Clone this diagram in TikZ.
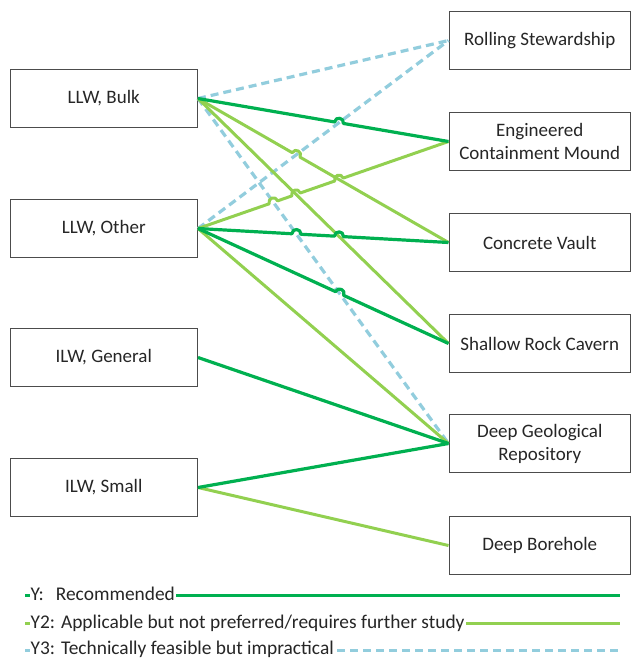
\documentclass[tikz,border=0pt]{standalone}
\usepackage{fontspec}
\setmainfont{Carlito}
\usetikzlibrary{calc}

\definecolor{ygreen}{RGB}{0,176,80}
\definecolor{ytwogreen}{RGB}{146,208,80}
\definecolor{ythreeblue}{RGB}{146,205,221}

\begin{document}
\begin{tikzpicture}[x=1pt, y=-1pt,
    box/.style={draw=black!70, line width=1pt, fill=white, minimum height=57.5pt,
        inner sep=0pt, align=center, font=\fontsize{19}{23}\selectfont, text=black!85},
    leftbox/.style={box, minimum width=187.5pt},
    rightbox/.style={box, minimum width=181.5pt},
    yline/.style={ygreen, line width=3.2pt, line join=round},
    ytwoline/.style={ytwogreen, line width=3pt, line join=round},
    ythreeline/.style={ythreeblue, line width=3.2pt, dash pattern=on 8pt off 5pt},
    hopover/.style={bend left=90, looseness=1.7},
    legtext/.style={fill=white, inner xsep=1pt, inner ysep=2pt, anchor=base west,
        font=\fontsize{19.4}{23}\selectfont, text=black!85}]
				% Размер рисунка
				\useasboundingbox (0,0) rectangle (631,659);
				
				% Отходы (слева)
				\node[leftbox] (bulk) at (103.75,98.5) {LLW, Bulk};
				\node[leftbox] (other) at (103.75,228.5) {LLW, Other};
				\node[leftbox] (general) at (103.75,357.5) {ILW, General};
				\node[leftbox] (small) at (103.75,487.5) {ILW, Small};
				
				% Варианты захоронения (справа)
				\node[rightbox] (rs) at (539.75,40.5) {Rolling Stewardship};
				\node[rightbox] (ecm) at (539.75,141.5) {Engineered\\Containment Mound};
				\node[rightbox] (cv) at (539.75,242.5) {Concrete Vault};
				\node[rightbox] (src) at (539.75,343.5) {Shallow Rock Cavern};
				\node[rightbox] (dgr) at (539.75,443.5) {Deep Geological\\Repository};
				\node[rightbox] (db) at (539.75,545.5) {Deep Borehole};
				
				% Точки перескока линий
				\coordinate (h1) at ($(bulk.east)!0.5628!(ecm.west)$);
				\coordinate (h2) at ($(bulk.east)!0.3916!(cv.west)$);
				\coordinate (h3) at ($(other.east)!0.3009!(ecm.west)$);
				\coordinate (h4) at ($(other.east)!0.3916!(ecm.west)$);
				\coordinate (h5) at ($(other.east)!0.5628!(ecm.west)$);
				\coordinate (h6) at ($(other.east)!0.3927!(cv.west)$);
				\coordinate (h7) at ($(other.east)!0.5628!(cv.west)$);
				\coordinate (h8) at ($(other.east)!0.5652!(src.west)$);
				
				% Y3: технически возможно
				\draw[ythreeline] (bulk.east) -- (rs.west);
				\draw[ythreeline] (bulk.east) -- (dgr.west);
				\draw[ythreeline] (other.east) -- (rs.west);
				
				% Y2: применимо, но не предпочтительно
				\draw[ytwoline] (bulk.east) -- ($(h2)!4.5pt!(bulk.east)$) to[hopover] ($(h2)!4.5pt!(cv.west)$) -- (cv.west);
				\draw[ytwoline] (bulk.east) -- (src.west);
				\draw[ytwoline] (other.east) -- ($(h3)!4.5pt!(other.east)$) to[hopover] ($(h3)!4.5pt!(ecm.west)$)
					-- ($(h4)!4.5pt!(other.east)$) to[hopover] ($(h4)!4.5pt!(ecm.west)$)
					-- ($(h5)!4.5pt!(other.east)$) to[hopover] ($(h5)!4.5pt!(ecm.west)$) -- (ecm.west);
				\draw[ytwoline] (other.east) -- (dgr.west);
				\draw[ytwoline] (small.east) -- (db.west);
				
				% Y: рекомендуется
				\draw[yline] (bulk.east) -- ($(h1)!4.5pt!(bulk.east)$) to[hopover] ($(h1)!4.5pt!(ecm.west)$) -- (ecm.west);
				\draw[yline] (other.east) -- ($(h6)!4.5pt!(other.east)$) to[hopover] ($(h6)!4.5pt!(cv.west)$)
					-- ($(h7)!4.5pt!(other.east)$) to[hopover] ($(h7)!4.5pt!(cv.west)$) -- (cv.west);
				\draw[yline] (other.east) -- ($(h8)!4.5pt!(other.east)$) to[hopover] ($(h8)!4.5pt!(src.west)$) -- (src.west);
				\draw[yline] (general.east) -- (dgr.west);
				\draw[yline] (small.east) -- (dgr.west);
				
				% Легенда
				\coordinate (lega) at (25,595);
				\coordinate (legae) at (620,595);
				\coordinate (legb) at (25,623);
				\coordinate (legbe) at (620,623);
				\coordinate (legc) at (25,650);
				\coordinate (legce) at (620,650);
				\draw[yline, line width=3pt] (lega) -- (legae);
				\draw[ytwoline] (legb) -- (legbe);
				\draw[ythreeline, line width=3pt] (legc) -- (legce);
				\node[legtext] (legy) at (29.5,600.5) {Y:\hspace{12pt}Recommended};
				\node[legtext] (legytwo) at (29.5,628.5) {Y2: Applicable but not preferred/requires further study};
				\node[legtext] (legythree) at (29.5,654.5) {Y3: Technically feasible but impractical};
			\end{tikzpicture}
\end{document}
